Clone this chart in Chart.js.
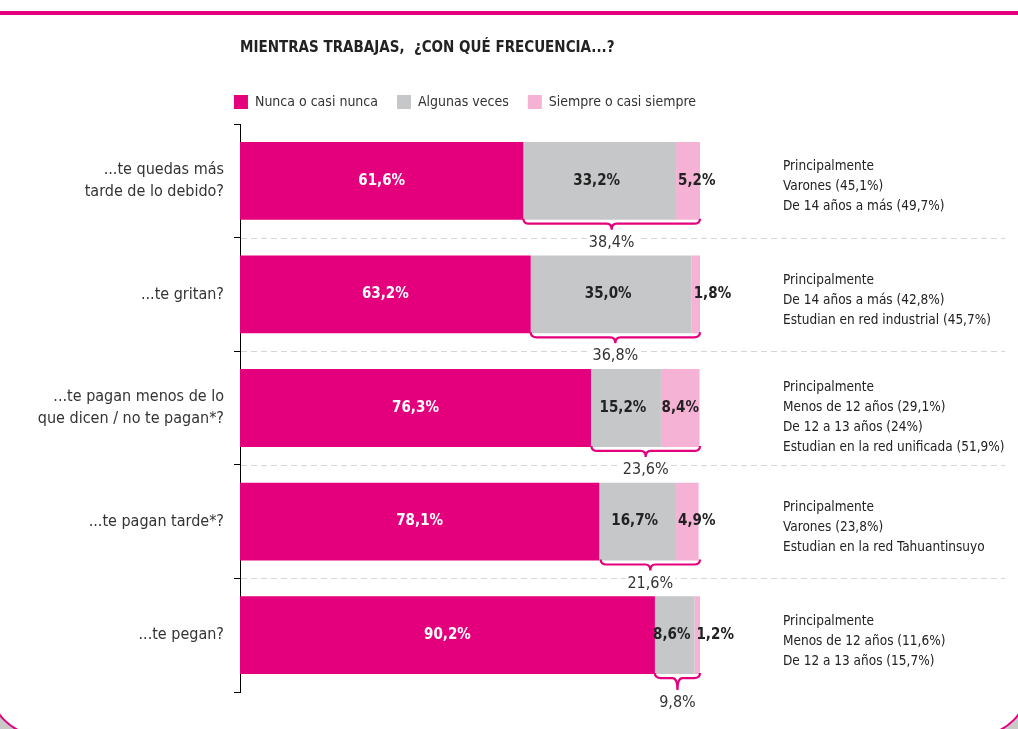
<!DOCTYPE html>
<html>
<head>
<meta charset="utf-8">
<script src="https://cdn.jsdelivr.net/npm/chart.js@4"></script>
<style>
html, body { margin: 0; padding: 0; background: #fff; }
</style>
</head>
<body>
<canvas id="barGraph" width="1018" height="729"></canvas>
<script>
const categories = [
    ['...te quedas más', 'tarde de lo debido?'],
    '...te gritan?',
    ['...te pagan menos de lo', 'que dicen / no te pagan*?'],
    '...te pagan tarde*?',
    '...te pegan?'
];
const seriesNames = ['Nunca o casi nunca', 'Algunas veces', 'Siempre o casi siempre'];
const nunca   = [61.6, 63.2, 76.3, 78.1, 90.2];
const algunas = [33.2, 35.0, 15.2, 16.7, 8.6];
const siempre = [5.2, 1.8, 8.4, 4.9, 1.2];
// sum of "algunas veces" + "siempre", shown under the brace
const braceValues = [38.4, 36.8, 23.6, 21.6, 9.8];
const notes = [
    ['Principalmente', 'Varones (45,1%)', 'De 14 años a más (49,7%)'],
    ['Principalmente', 'De 14 años a más (42,8%)', 'Estudian en red industrial (45,7%)'],
    ['Principalmente', 'Menos de 12 años (29,1%)', 'De 12 a 13 años (24%)', 'Estudian en la red unificada (51,9%)'],
    ['Principalmente', 'Varones (23,8%)', 'Estudian en la red Tahuantinsuyo'],
    ['Principalmente', 'Menos de 12 años (11,6%)', 'De 12 a 13 años (15,7%)']
];

const MAGENTA = '#e4007c';
const GRAY    = '#c6c7c9';
const PINK    = '#f6b2d4';
const FONT    = "'Liberation Sans Narrow', 'DejaVu Sans Condensed', 'Arial Narrow', sans-serif";

function fmt(v){
    return v.toFixed(1).replace('.', ',') + '%';
}

// frame, top rule, labels, braces and notes
const extras = {
    id: 'extras',
    beforeDraw(chart){
        const ctx = chart.ctx;
        ctx.save();
        // gray outside the rounded panel
        ctx.fillStyle = '#c8c8c8';
        ctx.fillRect(0, 680, 1018, 49);
        ctx.fillStyle = '#fff';
        ctx.beginPath();
        ctx.roundRect(-10, -20, 1038, 755, [0, 0, 50, 50]);
        ctx.fill();
        ctx.strokeStyle = MAGENTA;
        ctx.lineWidth = 2;
        ctx.stroke();
        // top rule
        ctx.fillStyle = MAGENTA;
        ctx.fillRect(0, 11, 1018, 4);
        ctx.restore();
    },
    afterDatasetsDraw(chart){
        const ctx = chart.ctx;
        const x = chart.scales.x;
        const area = chart.chartArea;
        const m0 = chart.getDatasetMeta(0).data;
        const m1 = chart.getDatasetMeta(1).data;
        const m2 = chart.getDatasetMeta(2).data;
        ctx.save();

        // dashed separators
        ctx.strokeStyle = '#d6d6d6';
        ctx.lineWidth = 1.2;
        ctx.setLineDash([6, 4]);
        for(let i=0; i<m0.length-1; i++){
            const y = Math.round((m0[i].y + m0[i+1].y)/2) + 0.5;
            ctx.beginPath();
            ctx.moveTo(area.left + 1, y);
            ctx.lineTo(1005, y);
            ctx.stroke();
        }
        ctx.setLineDash([]);

        ctx.textBaseline = 'middle';
        for(let i=0; i<m0.length; i++){
            const b0 = m0[i], b1 = m1[i], b2 = m2[i];
            // values in bars
            ctx.font = 'bold 15px ' + FONT;
            ctx.textAlign = 'center';
            ctx.fillStyle = '#fff';
            ctx.fillText(fmt(nunca[i]), (b0.base + b0.x)/2, b0.y);
            ctx.fillStyle = '#222';
            ctx.fillText(fmt(algunas[i]), (b1.base + b1.x)/2 - 3, b1.y);
            if(b2.x - b2.base > 34){
                ctx.fillText(fmt(siempre[i]), (b2.base + b2.x)/2, b2.y);
            }else{
                ctx.textAlign = 'left';
                ctx.fillText(fmt(siempre[i]), b2.base + 2, b2.y);
            }

            // brace
            const bottom = b0.y + b0.height/2;
            const xs = x.getPixelForValue(100 - braceValues[i]);
            const xe = x.getPixelForValue(100);
            const mid = (xs + xe)/2;
            const y0 = bottom - 1;
            const y1 = y0 + 5;
            const stem = i === m0.length-1 ? 12 : 6;
            ctx.strokeStyle = MAGENTA;
            ctx.lineWidth = 2.2;
            ctx.beginPath();
            ctx.moveTo(xs, y0);
            ctx.quadraticCurveTo(xs, y1, xs + 6, y1);
            ctx.lineTo(mid - 5, y1);
            ctx.quadraticCurveTo(mid, y1, mid, y1 + stem);
            ctx.quadraticCurveTo(mid, y1, mid + 5, y1);
            ctx.lineTo(xe - 6, y1);
            ctx.quadraticCurveTo(xe, y1, xe, y0);
            ctx.stroke();

            ctx.font = '16px ' + FONT;
            ctx.textAlign = 'center';
            const ly = y1 + stem + 13;
            const tw = ctx.measureText(fmt(braceValues[i])).width;
            ctx.fillStyle = '#fff';
            ctx.fillRect(mid - tw/2 - 2, ly - 8, tw + 4, 16);
            ctx.fillStyle = '#333';
            ctx.fillText(fmt(braceValues[i]), mid, ly);

            // notes on the right
            ctx.font = '13.5px ' + FONT;
            ctx.textAlign = 'left';
            ctx.fillStyle = '#222';
            const lines = notes[i];
            const top = b0.y - 14 - (lines.length - 3)*7;
            lines.forEach((t, k) => ctx.fillText(t, 783, top + k*20));
        }
        ctx.restore();
    }
};

const ctx = document.getElementById('barGraph').getContext('2d');
const chart = new Chart(ctx, {
    type: 'bar',
    data: {
        labels: categories,
        datasets: [
            { label: seriesNames[0], data: nunca,   backgroundColor: MAGENTA },
            { label: seriesNames[1], data: algunas, backgroundColor: GRAY },
            { label: seriesNames[2], data: siempre, backgroundColor: PINK }
        ]
    },
    plugins: [extras],
    options: {
        indexAxis: 'y',
        responsive: false,
        animation: false,
        devicePixelRatio: 1,
        categoryPercentage: 1,
        barPercentage: 0.685,
        layout: { padding: { left: 0, right: 88, top: 0, bottom: 37 } },
        scales: {
            x: { stacked: true, min: 0, max: 100, display: false },
            // empty axis only used as a small gap under the legend
            xTop: {
                type: 'linear',
                position: 'top',
                display: true,
                grid: { display: false },
                border: { display: false },
                ticks: { display: false },
                afterFit(scale){ scale.height = 5; }
            },
            y: {
                stacked: true,
                grid: { display: true, drawOnChartArea: false, drawTicks: true, tickLength: 6, color: '#000', offset: true },
                border: { display: true, color: '#000', width: 1 },
                ticks: { padding: 10, color: '#333', font: { family: FONT, size: 16, lineHeight: 1.4 } },
                afterFit(scale){ scale.width = 240; }
            },
            yRight: {
                position: 'right',
                display: true,
                grid: { display: false },
                border: { display: false },
                ticks: { display: false },
                afterFit(scale){ scale.width = 230; }
            }
        },
        plugins: {
            tooltip: { enabled: false },
            title: {
                display: true,
                text: 'MIENTRAS TRABAJAS,  ¿CON QUÉ FRECUENCIA...?',
                align: 'start',
                fullSize: false,
                color: '#222',
                font: { family: FONT, size: 15, weight: 'bold' },
                padding: { top: 39, bottom: 19 }
            },
            legend: {
                align: 'center',
                labels: {
                    boxWidth: 14,
                    boxHeight: 14,
                    padding: 19,
                    color: '#333',
                    font: { family: FONT, size: 14 }
                }
            }
        }
    }
});
</script>
</body>
</html>
